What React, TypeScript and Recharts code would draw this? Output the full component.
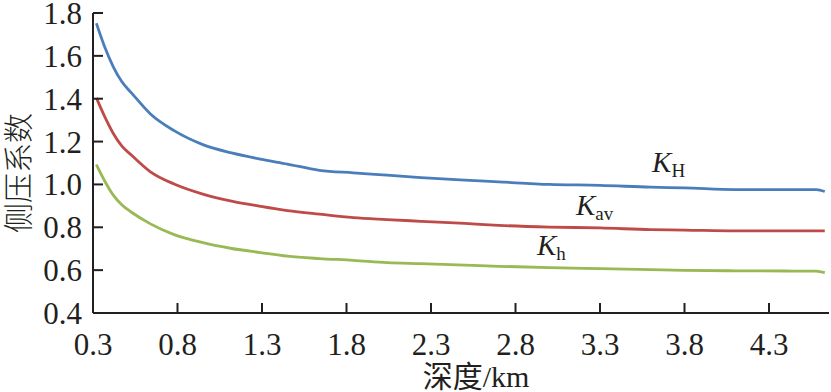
import { LineChart, Line, XAxis, YAxis, ReferenceDot } from "recharts";

// depth (km)
const depths = [
  0.32, 0.37, 0.42, 0.47, 0.53, 0.64, 0.78, 0.95, 1.12, 1.29, 1.45, 1.64,
  1.84, 2.04, 2.24, 2.5, 2.7, 3.0, 3.3, 3.6, 3.8, 4.1, 4.4, 4.58, 4.63,
];
const kH = [
  1.752, 1.64, 1.549, 1.48, 1.425, 1.329, 1.251, 1.186, 1.147, 1.118, 1.095,
  1.066, 1.054, 1.043, 1.032, 1.02, 1.012, 1.0, 0.996, 0.987, 0.984, 0.976,
  0.976, 0.976, 0.967,
];
const kAv = [
  1.404, 1.315, 1.238, 1.18, 1.135, 1.059, 1.002, 0.955, 0.922, 0.898, 0.878,
  0.861, 0.845, 0.836, 0.828, 0.818, 0.809, 0.801, 0.797, 0.789, 0.787,
  0.783, 0.783, 0.783, 0.783,
];
const kh = [
  1.093, 1.015, 0.95, 0.905, 0.869, 0.816, 0.766, 0.728, 0.701, 0.682, 0.665,
  0.654, 0.646, 0.635, 0.63, 0.623, 0.618, 0.612, 0.607, 0.602, 0.599, 0.597,
  0.596, 0.595, 0.588,
];
const xTicks = [0.3, 0.8, 1.3, 1.8, 2.3, 2.8, 3.3, 3.8, 4.3];
const yTicks = [0.4, 0.6, 0.8, 1.0, 1.2, 1.4, 1.6, 1.8];

const data = depths.map((d, i) => ({ d, kH: kH[i], kAv: kAv[i], kh: kh[i] }));

const INK = "#231f20";
const SERIF = "Liberation Serif, Times New Roman, serif";

function kLabel(sub: string) {
  return (props: any) => {
    const { x, y } = props.viewBox ?? props;
    return (
      <text x={x} y={y} fill={INK} fontFamily={SERIF}>
        <tspan fontStyle="italic" fontSize={29}>
          K
        </tspan>
        <tspan fontSize={19} dy={5}>
          {sub}
        </tspan>
      </text>
    );
  };
}

function Tick(props: any) {
  const { x, y, payload, textAnchor, dy } = props;
  return (
    <text
      x={x}
      y={y}
      dy={dy}
      textAnchor={textAnchor}
      fontFamily={SERIF}
      fontSize={31}
      fill={INK}
    >
      {Number(payload.value).toFixed(1)}
    </text>
  );
}

export default function App() {
  return (
    <div
      style={{
        position: "absolute",
        left: 0,
        top: 0,
        width: 831,
        height: 392,
        fontFamily: SERIF,
      }}
    >
      <LineChart
        width={831}
        height={392}
        data={data}
        margin={{ top: 13, right: 2, bottom: 0, left: 0 }}
      >
        <XAxis
          dataKey="d"
          type="number"
          domain={[0.3, 4.655]}
          ticks={xTicks}
          height={79}
          tickSize={-10}
          tickMargin={30}
          stroke={INK}
          strokeWidth={2}
          tick={(p: any) => <Tick {...p} dy={22} />}
          interval={0}
        />
        <XAxis
          xAxisId="top"
          orientation="top"
          dataKey="d"
          type="number"
          domain={[0.3, 4.655]}
          height={0}
          tick={false}
          tickLine={false}
          stroke={INK}
          strokeWidth={2}
        />
        <YAxis
          domain={[0.4, 1.8]}
          ticks={yTicks}
          width={93}
          tickSize={-10}
          tickMargin={21}
          stroke={INK}
          strokeWidth={2}
          tick={(p: any) => <Tick {...p} dy={11} />}
          interval={0}
        />
        <YAxis
          yAxisId="right"
          orientation="right"
          domain={[0.4, 1.8]}
          width={0}
          tick={false}
          tickLine={false}
          stroke={INK}
          strokeWidth={2}
        />
        <Line
          dataKey="kH"
          stroke="#4a7ebb"
          strokeWidth={2.8}
          dot={false}
          type="monotone"
          isAnimationActive={false}
        />
        <Line
          dataKey="kAv"
          stroke="#be4b48"
          strokeWidth={2.8}
          dot={false}
          type="monotone"
          isAnimationActive={false}
        />
        <Line
          dataKey="kh"
          stroke="#98b954"
          strokeWidth={2.8}
          dot={false}
          type="monotone"
          isAnimationActive={false}
        />
        <ReferenceDot x={3.608} y={1.057} r={0} label={kLabel("H")} />
        <ReferenceDot x={3.158} y={0.856} r={0} label={kLabel("av")} />
        <ReferenceDot x={2.927} y={0.669} r={0} label={kLabel("h")} />
      </LineChart>
      <svg
        width={831}
        height={392}
        style={{ position: "absolute", left: 0, top: 0, pointerEvents: "none" }}
      >
        <text
          x={476}
          y={387}
          textAnchor="middle"
          fontSize={30}
          fill={INK}
          fontFamily="Liberation Serif, Noto Sans CJK SC, serif"
        >
          深度/km
        </text>
        <text
          transform="translate(29,173) rotate(-90)"
          textAnchor="middle"
          fontSize={30}
          fill={INK}
          fontFamily="Noto Sans CJK SC, sans-serif"
          fontWeight={300}
        >
          侧压系数
        </text>
      </svg>
    </div>
  );
}
